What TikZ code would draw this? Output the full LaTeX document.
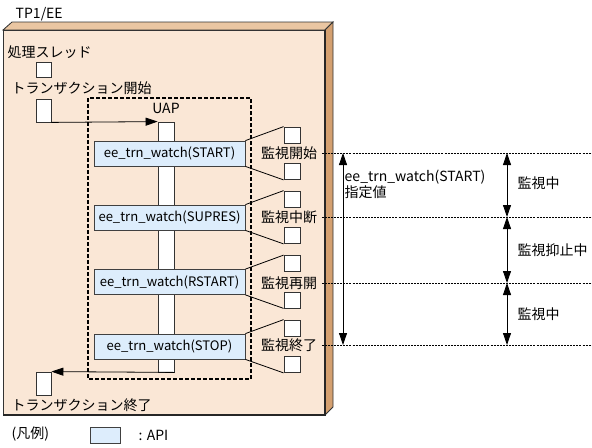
\documentclass[tikz,border=0pt]{standalone}
\usepackage{fontspec}
\setmainfont{Noto Sans CJK JP}
\usetikzlibrary{arrows.meta,positioning}

\definecolor{boxfront}{RGB}{250,231,214}
\definecolor{boxtop}{RGB}{234,198,162}
\definecolor{boxside}{RGB}{212,160,112}
\definecolor{apiblue}{RGB}{221,237,252}

\begin{document}
\begin{tikzpicture}[x=0.75pt,y=-0.75pt,
                    line width=0.6pt,every node/.style={font=\fontsize{10.5}{12}\selectfont},
                    api node/.style={draw=black!75,fill=apiblue,minimum width=113.25pt,minimum height=18.75pt,inner sep=0pt,font=\fontsize{9.8}{12}\selectfont},
                    mini node/.style={draw=black!80,fill=white,minimum size=12pt,inner sep=0pt},
                    thread node/.style={draw=black!80,fill=white,minimum width=11.25pt,inner sep=0pt},
                    label node/.style={anchor=west,inner sep=1pt},
                    tip/.style={-{Triangle[length=9pt,width=6pt]}},
                    both tip/.style={{Triangle[length=9pt,width=6pt]}-{Triangle[length=9pt,width=6pt]}},
                    guide/.style={dash pattern=on 1.5pt off 0.8pt,line width=0.5pt}]

  \useasboundingbox (0,0) rectangle (592,447);

  % TP1/EE box
  \filldraw[fill=boxtop,draw=black!80] (3,30) -- (12,22) -- (333,22) -- (325,30) -- cycle;
  \filldraw[fill=boxside,draw=black!80] (325,30) -- (333,22) -- (333,407) -- (325,415) -- cycle;
  \filldraw[fill=boxfront,draw=black!80] (3,30) rectangle (325,415);
  \draw[black!85,line width=1.2pt] (325,30) -- (325,415) -- (3,415);
  \node[label node] (tp1) at (14,14) {TP1/EE};

  % thread
  \node[label node] (thr) at (6,52) {処理スレッド};
  \node[thread node,minimum height=11.25pt] (1) at (43.5,69.5) {};
  \node[label node] (trb) at (10,88) {トランザクション開始};
  \node[thread node,minimum height=17.25pt] (2) at (43.5,110.5) {};
  \node[thread node,minimum height=17.25pt] (3) at (43.5,383.5) {};
  \node[label node] (tre) at (10,405) {トランザクション終了};

  % UAP
  \draw[dash pattern=on 3pt off 1.5pt,line width=0.8pt] (88,98) rectangle (251,379);
  \node (uap) at (166,108) {UAP};
  \node[draw=black!80,fill=white,minimum width=12pt,minimum height=187.5pt,inner sep=0pt] (bar) at (166,247) {};

  \draw[tip] (2.south east) -- (bar.north west);
  \draw[tip] (bar.south east) -- (3.north east);

  % API calls
  \node[api node] (api1) at (169.5,153.5) {ee\_trn\_watch(START)};
  \node[api node] (api2) at (169.5,217.5) {ee\_trn\_watch(SUPRES)};
  \node[api node] (api3) at (169.5,282) {ee\_trn\_watch(RSTART)};
  \node[api node] (api4) at (169.5,346.5) {ee\_trn\_watch(STOP)};

  \node[mini node] (u1) at (292,135) {};
  \node[mini node] (d1) at (292,171.5) {};
  \node[mini node] (u2) at (292,199) {};
  \node[mini node] (d2) at (292,235.5) {};
  \node[mini node] (u3) at (292,263.5) {};
  \node[mini node] (d3) at (292,300) {};
  \node[mini node] (u4) at (292,328) {};
  \node[mini node] (d4) at (292,364.5) {};

  \draw (api1.north east) -- (u1.north west) (api1.south east) -- (d1.south west);
  \draw (api2.north east) -- (u2.north west) (api2.south east) -- (d2.south west);
  \draw (api3.north east) -- (u3.north west) (api3.south east) -- (d3.south west);
  \draw (api4.north east) -- (u4.north west) (api4.south east) -- (d4.south west);

  \node (m1) at (289,153) {監視開始};
  \node (m2) at (289,217) {監視中断};
  \node (m3) at (289,283) {監視再開};
  \node (m4) at (289,345) {監視終了};

  % time lines
  \coordinate (e1) at (592,153);
  \coordinate (e2) at (592,217);
  \coordinate (e3) at (592,283);
  \coordinate (e4) at (592,345);
  \draw[guide] (m1.east) -- (e1);
  \draw[guide] (m2.east) -- (e2);
  \draw[guide] (m3.east) -- (e3);
  \draw[guide] (m4.east) -- (e4);

  \coordinate (span) at (343,0);
  \coordinate (state) at (507,0);
  \draw[both tip] (m1 -| span) -- (m4 -| span);
  \node[label node,anchor=north west,align=left] (val) at (343,168) {ee\_trn\_watch(START)\\指定値};

  \draw[both tip] (m1 -| state) -- (m2 -| state);
  \draw[both tip] (m2 -| state) -- (m3 -| state);
  \draw[both tip] (m3 -| state) -- (m4 -| state);
  \node[label node] (s1) at (516,183) {監視中};
  \node[label node] (s2) at (516,250) {監視抑止中};
  \node[label node] (s3) at (516,314) {監視中};

  % legend
  \node[label node] (leg) at (10,434) {(凡例)};
  \node[draw=black!75,fill=apiblue,minimum width=22.5pt,minimum height=12pt,inner sep=0pt] (legbox) at (105,435) {};
  \node[label node] (legtxt) at (137,435) {: API};
\end{tikzpicture}
\end{document}
